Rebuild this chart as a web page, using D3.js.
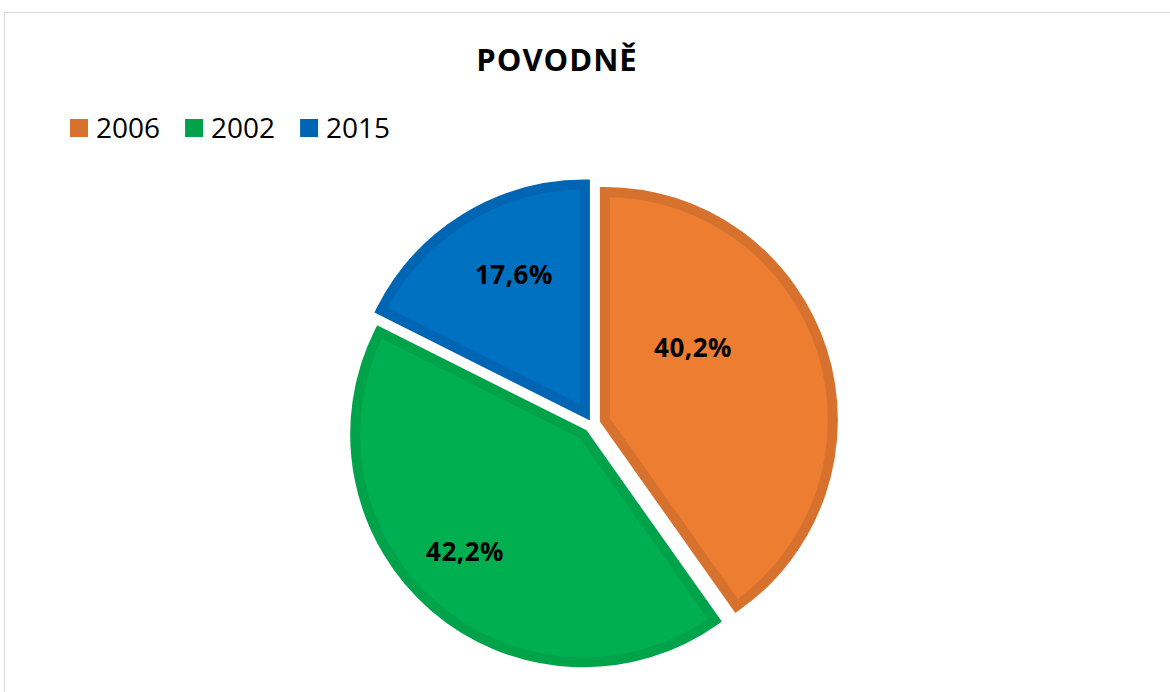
<!DOCTYPE html>
<html>
<head>
<meta charset="utf-8">
<script src="https://cdn.jsdelivr.net/npm/d3@7"></script>
<style>
  body { margin: 0; background: #fff; }
  svg { display: block; }
</style>
</head>
<body>
<div id="chartspace"></div>
<script>
// data
var years = ["2006", "2002", "2015"];
var shares = [40.2, 42.2, 17.6];
var title = "POVODNĚ";

var fills = ["#ED7D31", "#00B050", "#0070C0"];
var borders = ["#D6712E", "#00A34A", "#0065B2"];
// where Excel put each label inside its slice: fraction of the slice angle, fraction of radius
var labelAt = [[0.35, 0.50], [0.53, 0.73], [0.57, 0.68]];

var width = 1170, height = 692;
var cx = 592, cy = 424, radius = 228, explode = 13.5;

var svg = d3.select("#chartspace").append("svg")
    .attr("width", width)
    .attr("height", height);

// chart area frame
svg.append("rect")
    .attr("x", 4.5).attr("y", 12.5)
    .attr("width", 1200).attr("height", 700)
    .attr("fill", "none")
    .attr("stroke", "#d9d9d9");

svg.append("text")
    .attr("x", 557).attr("y", 71)
    .attr("text-anchor", "middle")
    .style("font-family", "'Open Sans', sans-serif")
    .style("font-weight", "bold")
    .style("font-size", "31px")
    .style("letter-spacing", "1px")
    .text(title);

// legend
var legend = svg.append("g").attr("transform", "translate(70,119)");
var lx = 0;
years.forEach(function (y, i) {
    var g = legend.append("g").attr("transform", "translate(" + lx + ",0)");
    g.append("rect").attr("width", 18).attr("height", 18).attr("fill", borders[i]);
    var t = g.append("text")
        .attr("x", 26).attr("y", 19)
        .style("font-family", "'Open Sans', sans-serif")
        .style("font-size", "28px")
        .text(y);
    lx += 26 + t.node().getComputedTextLength() + 25;
});

var pie = d3.pie().sort(null).value(function (d) { return d; });
var arc = d3.arc().innerRadius(0).outerRadius(radius);
var arcs = pie(shares);

var fmt = d3.formatLocale({ decimal: ",", thousands: " ", grouping: [3], currency: ["", ""] }).format(".1f");

var plot = svg.append("g").attr("transform", "translate(" + cx + "," + cy + ")");

var slice = plot.selectAll("g.slice")
    .data(arcs)
    .enter().append("g")
    .attr("class", "slice")
    .attr("transform", function (d) {
        var m = (d.startAngle + d.endAngle) / 2;
        return "translate(" + (explode * Math.sin(m)) + "," + (-explode * Math.cos(m)) + ")";
    });

slice.append("path")
    .attr("d", arc)
    .attr("fill", function (d, i) { return fills[i]; })
    .attr("stroke", function (d, i) { return borders[i]; })
    .attr("stroke-width", 10)
    .attr("stroke-linejoin", "miter");

slice.append("text")
    .attr("transform", function (d, i) {
        var a = d.startAngle + labelAt[i][0] * (d.endAngle - d.startAngle);
        var r = labelAt[i][1] * radius;
        return "translate(" + (r * Math.sin(a)) + "," + (-r * Math.cos(a)) + ")";
    })
    .attr("text-anchor", "middle")
    .attr("dy", "0.36em")
    .style("font-family", "'Open Sans', sans-serif")
    .style("font-weight", "bold")
    .style("font-size", "26px")
    .style("letter-spacing", "0.5px")
    .text(function (d) { return fmt(d.data) + "%"; });
</script>
</body>
</html>
